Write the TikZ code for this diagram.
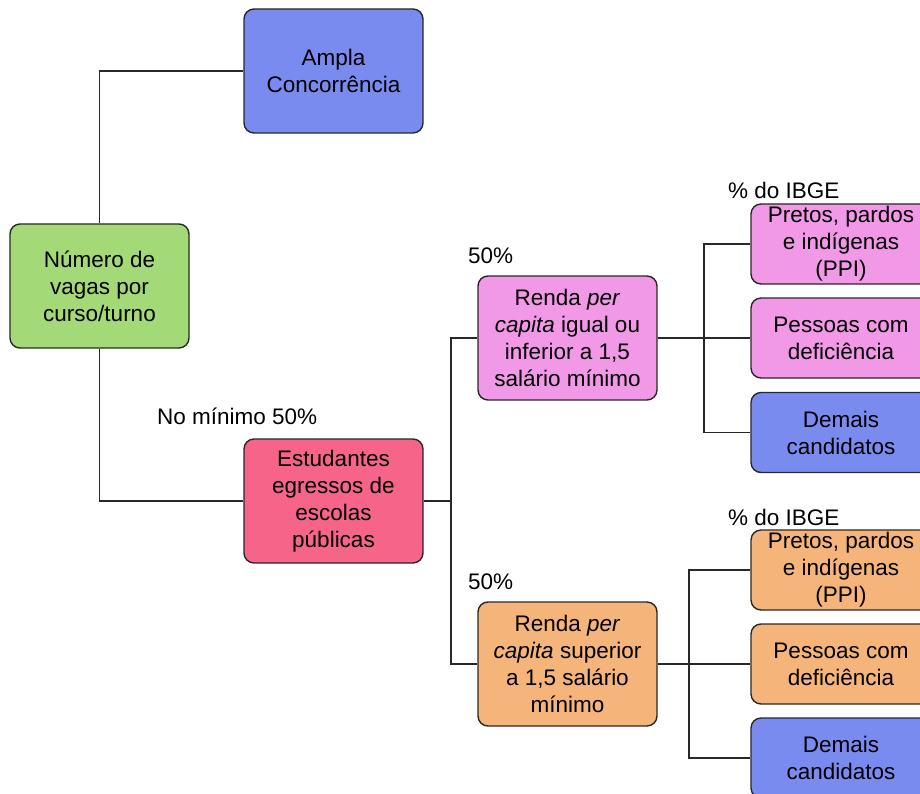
\documentclass[tikz,border=0pt]{standalone}
\usepackage{fontspec}
\setmainfont{Liberation Sans}
\definecolor{cgreen}{RGB}{163,217,119}
\definecolor{cblue}{RGB}{122,139,240}
\definecolor{cred}{RGB}{246,101,137}
\definecolor{cpink}{RGB}{241,152,230}
\definecolor{corange}{RGB}{245,180,122}
\definecolor{cline}{RGB}{40,40,40}
\tikzset{
  box/.style={draw=cline, line width=1.4pt, rounded corners=10pt, minimum width=179pt,
    minimum height=124pt, align=center, font=\fontsize{22.5}{27}\selectfont, inner sep=0pt},
  smallbox/.style={box, minimum width=180pt, minimum height=80pt},
  wire/.style={draw=cline, line width=1.3pt},
  lbl/.style={font=\fontsize{22.5}{27}\selectfont, inner sep=0pt, anchor=west}
}
\begin{document}
\begin{tikzpicture}[x=1pt,y=-1pt]
\useasboundingbox (0,0) rectangle (920,794);
\clip (0,0) rectangle (920,794);
\fill[white] (0,0) rectangle (920,794);
% main nodes
\node[box, fill=cgreen] (num) at (99.5,286) {Número de\\vagas por\\curso/turno};
\node[box, fill=cblue] (ampla) at (333.5,71) {Ampla\\Concorrência};
\node[box, fill=cred] (est) at (333.5,501) {Estudantes\\egressos de\\escolas\\públicas};
\node[box, fill=cpink] (rlow) at (567.5,338) {Renda \textit{per}\\\textit{capita} igual ou\\inferior a 1,5\\salário mínimo};
\node[box, fill=corange] (rhigh) at (567.5,664) {Renda \textit{per}\\\textit{capita} superior\\a 1,5 salário\\mínimo};
% right column, upper
\node[smallbox, fill=cpink] (ppia) at (841,244) {Pretos, pardos\\e indígenas\\(PPI)};
\node[smallbox, fill=cpink] (pcda) at (841,338) {Pessoas com\\deficiência};
\node[smallbox, fill=cblue] (dema) at (841,432.5) {Demais\\candidatos};
% right column, lower
\node[smallbox, fill=corange] (ppib) at (841,570) {Pretos, pardos\\e indígenas\\(PPI)};
\node[smallbox, fill=corange] (pcdb) at (841,664) {Pessoas com\\deficiência};
\node[smallbox, fill=cblue] (demb) at (841,758) {Demais\\candidatos};
% bus coordinates
\coordinate (bus1) at (451,501);
\coordinate (bus2) at (704,338);
\coordinate (bus3) at (689,664);
% connectors
\draw[wire] (num.north) |- (ampla.west);
\draw[wire] (num.south) |- (est.west);
\draw[wire] (est.east) -- (bus1);
\draw[wire] (rlow.west) -| (bus1) |- (rhigh.west);
\draw[wire] (rlow.east) -- (pcda.west);
\draw[wire] (ppia.west) -| (bus2) |- (dema.west);
\draw[wire] (rhigh.east) -- (pcdb.west);
\draw[wire] (ppib.west) -| (bus3) |- (demb.west);
% labels
\node[lbl] (l1) at (157,416) {No mínimo 50\%};
\node[lbl] (l2) at (468,256) {50\%};
\node[lbl] (l3) at (468,582) {50\%};
\node[lbl] (l4) at (728,190) {\% do IBGE};
\node[lbl] (l5) at (728,517) {\% do IBGE};
\end{tikzpicture}
\end{document}
